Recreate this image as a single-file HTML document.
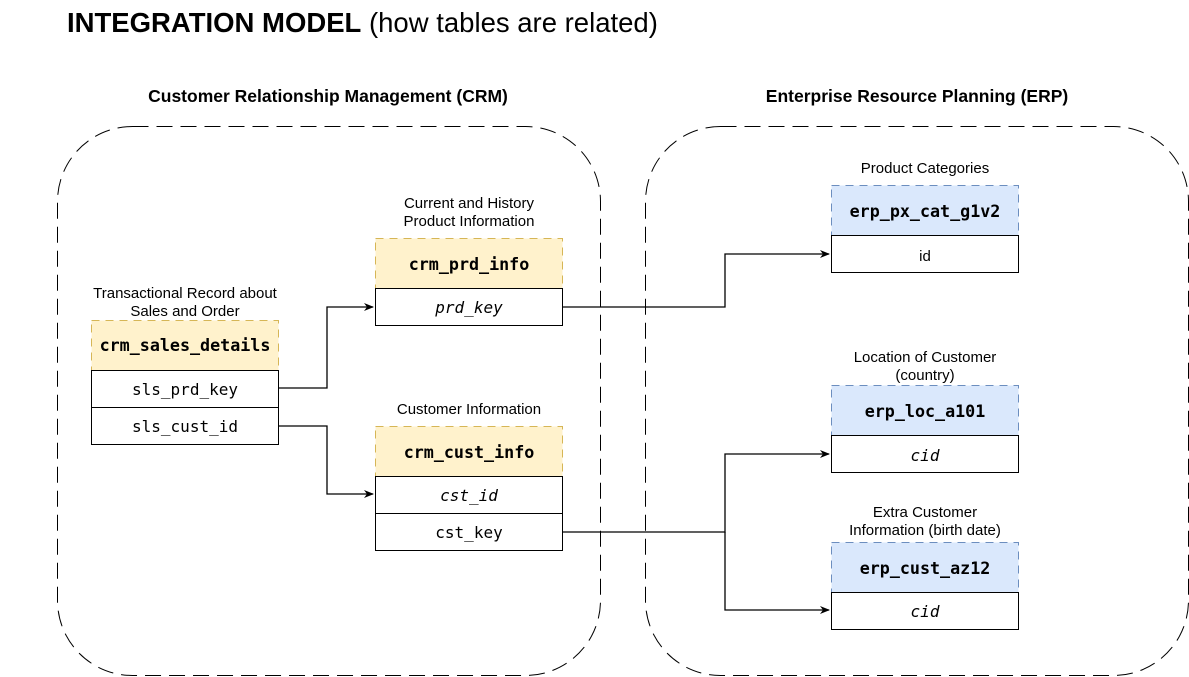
<!DOCTYPE html>
<html><head><meta charset="utf-8"><style>
html,body{margin:0;padding:0;background:#fff;}
svg{display:block}
.h{font-family:"DejaVu Sans Mono","Liberation Mono",monospace;font-weight:bold;font-size:16.7px;text-anchor:middle}
.f{font-family:"DejaVu Sans Mono","Liberation Mono",monospace;font-size:16px;text-anchor:middle}
.l{font-family:"Liberation Sans",sans-serif;font-size:15px;text-anchor:middle}
.s{font-family:"Liberation Sans",sans-serif;font-size:17.5px;font-weight:bold;text-anchor:middle}
</style></head><body>
<svg width="1189" height="677" viewBox="0 0 1189 677" xmlns="http://www.w3.org/2000/svg">
<defs><marker id="a" markerWidth="10" markerHeight="10" refX="9" refY="5" orient="auto" markerUnits="userSpaceOnUse"><path d="M0,1 L10,5 L0,9 L3,5 Z" fill="#000"/></marker></defs>
<text x="67" y="32" font-family="Liberation Sans,sans-serif" font-size="27.5"><tspan font-weight="bold">INTEGRATION MODEL</tspan> (how tables are related)</text>
<text x="328" y="102" class="s">Customer Relationship Management (CRM)</text>
<text x="917" y="102" class="s">Enterprise Resource Planning (ERP)</text>
<rect x="57.5" y="126.5" width="543" height="549" rx="75" fill="none" stroke="#000" stroke-dasharray="16 8"/>
<rect x="645.5" y="126.5" width="543" height="549" rx="75" fill="none" stroke="#000" stroke-dasharray="16 8"/>
<g fill="none" stroke="#000" stroke-width="1.3">
<path d="M278 388 H327 V307 H373" marker-end="url(#a)"/>
<path d="M278 426 H327 V494 H373" marker-end="url(#a)"/>
<path d="M562 307 H725 V254 H829" marker-end="url(#a)"/>
<path d="M562 532 H725 V454 H829" marker-end="url(#a)"/>
<path d="M725 532 V610 H829" marker-end="url(#a)"/>
</g>
<text x="185" y="298" class="l">Transactional Record about</text>
<text x="185" y="316" class="l">Sales and Order</text>
<rect x="91.5" y="320.5" width="187" height="50" fill="#fff2cc" stroke="#d6b656" stroke-dasharray="8 6"/>
<text x="185" y="351" class="h">crm_sales_details</text>
<rect x="91.5" y="370.5" width="187" height="37" fill="#fff" stroke="#000"/>
<rect x="91.5" y="407.5" width="187" height="37" fill="#fff" stroke="#000"/>
<text x="185" y="395" class="f">sls_prd_key</text>
<text x="185" y="432" class="f">sls_cust_id</text>
<text x="469" y="208" class="l">Current and History</text>
<text x="469" y="226" class="l">Product Information</text>
<rect x="375.5" y="238.5" width="187" height="50" fill="#fff2cc" stroke="#d6b656" stroke-dasharray="8 6"/>
<text x="469" y="270" class="h">crm_prd_info</text>
<rect x="375.5" y="288.5" width="187" height="37" fill="#fff" stroke="#000"/>
<text x="469" y="313" class="f" font-style="italic">prd_key</text>
<text x="469" y="414" class="l">Customer Information</text>
<rect x="375.5" y="426.5" width="187" height="50" fill="#fff2cc" stroke="#d6b656" stroke-dasharray="8 6"/>
<text x="469" y="458" class="h" font-size="17.5">crm_cust_info</text>
<rect x="375.5" y="476.5" width="187" height="37" fill="#fff" stroke="#000"/>
<rect x="375.5" y="513.5" width="187" height="37" fill="#fff" stroke="#000"/>
<text x="469" y="501" class="f" font-style="italic">cst_id</text>
<text x="469" y="538" class="f">cst_key</text>
<text x="925" y="173" class="l">Product Categories</text>
<rect x="831.5" y="185.5" width="187" height="50" fill="#dae8fc" stroke="#6c8ebf" stroke-dasharray="8 6"/>
<text x="925" y="217" class="h">erp_px_cat_g1v2</text>
<rect x="831.5" y="235.5" width="187" height="37" fill="#fff" stroke="#000"/>
<text x="925" y="261" class="l">id</text>
<text x="925" y="362" class="l">Location of Customer</text>
<text x="925" y="380" class="l">(country)</text>
<rect x="831.5" y="385.5" width="187" height="50" fill="#dae8fc" stroke="#6c8ebf" stroke-dasharray="8 6"/>
<text x="925" y="417" class="h">erp_loc_a101</text>
<rect x="831.5" y="435.5" width="187" height="37" fill="#fff" stroke="#000"/>
<text x="925" y="461" class="f" font-style="italic">cid</text>
<text x="925" y="517" class="l">Extra Customer</text>
<text x="925" y="535" class="l">Information (birth date)</text>
<rect x="831.5" y="542.5" width="187" height="50" fill="#dae8fc" stroke="#6c8ebf" stroke-dasharray="8 6"/>
<text x="925" y="574" class="h">erp_cust_az12</text>
<rect x="831.5" y="592.5" width="187" height="37" fill="#fff" stroke="#000"/>
<text x="925" y="617" class="f" font-style="italic">cid</text>
</svg>
</body></html>
